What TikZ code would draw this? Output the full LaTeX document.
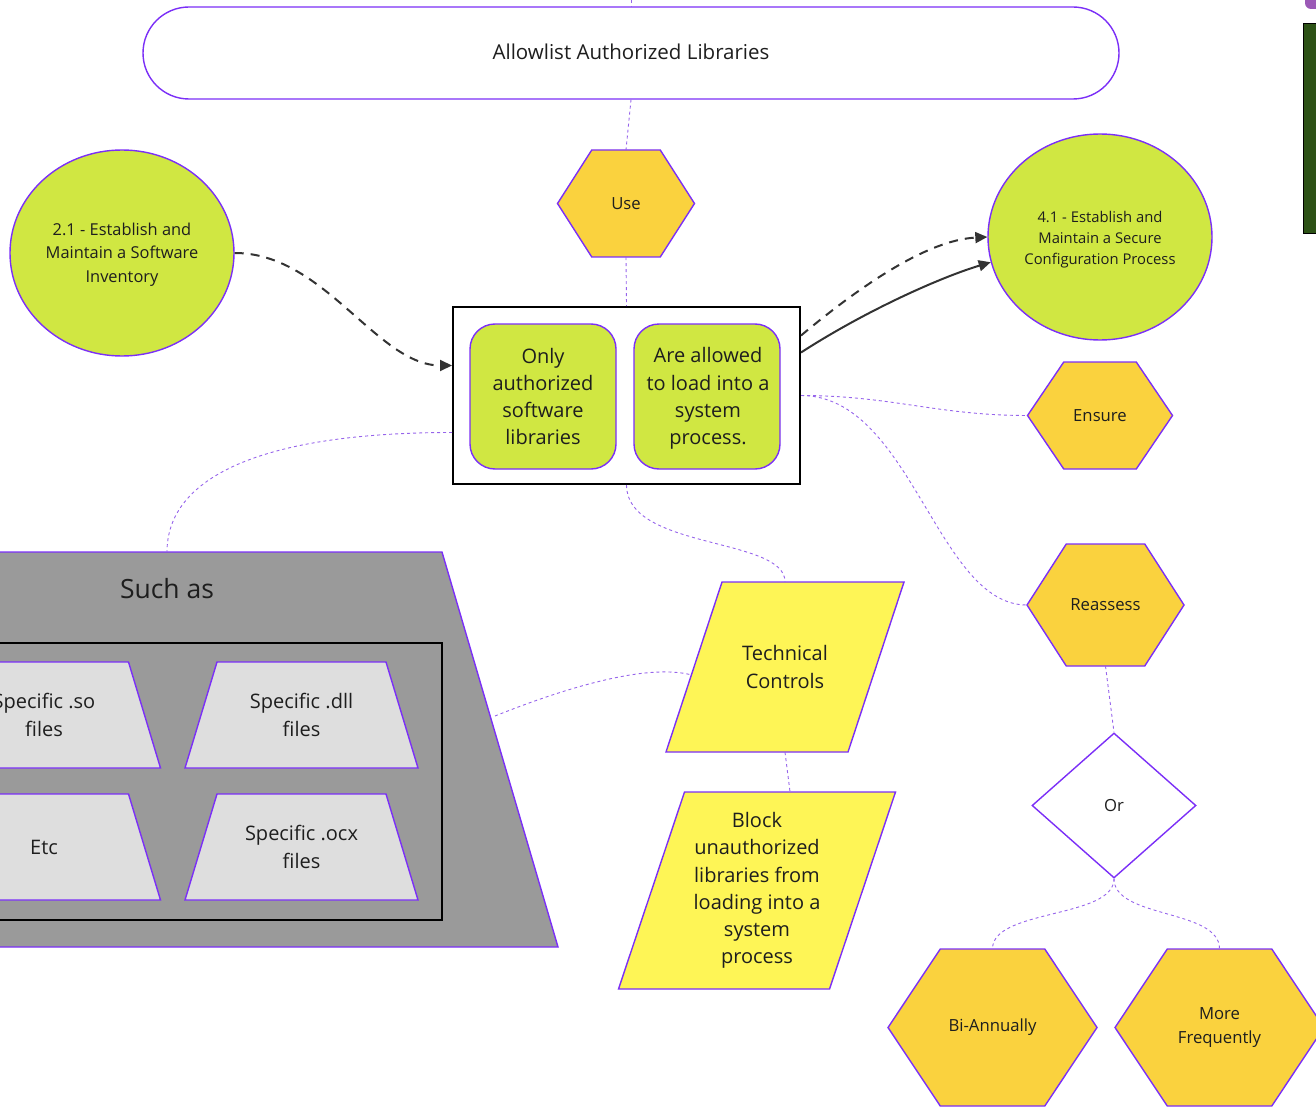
\documentclass[tikz,border=0pt]{standalone}
\usepackage{fontspec}
\setmainfont{Open Sans}
\usetikzlibrary{arrows.meta,calc,shapes.geometric}

\definecolor{edgepurple}{RGB}{123,47,247}
\definecolor{linkpurple}{RGB}{150,100,235}
\definecolor{lime}{RGB}{208,231,66}
\definecolor{amber}{RGB}{250,210,62}
\definecolor{lemon}{RGB}{254,245,86}
\definecolor{slab}{RGB}{154,154,154}
\definecolor{tile}{RGB}{222,222,222}
\definecolor{ink}{RGB}{30,30,30}
\definecolor{arrowgray}{RGB}{51,51,51}
\definecolor{moss}{RGB}{45,82,22}
\definecolor{orchid}{RGB}{155,89,182}

\tikzset{
  shapeline/.style={draw=edgepurple, line width=1.4pt},
  conn/.style={draw=linkpurple, line width=0.9pt, dash pattern=on 3pt off 3pt},
  flowarrow/.style={draw=arrowgray, line width=2pt, -{Triangle[length=12pt,width=11pt]}},
  flowarrowdash/.style={flowarrow, dash pattern=on 9pt off 7pt},
  txt/.style={text=ink, align=center, inner sep=0pt},
  bigtext/.style={font=\fontsize{20}{27.3}\selectfont},
  hextext/.style={font=\fontsize{16.7}{24}\selectfont},
}

% hexagon: name, cx, cy, width, height, text
\newcommand{\hexnode}[6]{%
  \filldraw[shapeline, fill=amber]
    ({#2-#4/2},{#3}) -- ({#2-#4/4},{#3-#5/2}) -- ({#2+#4/4},{#3-#5/2}) --
    ({#2+#4/2},{#3}) -- ({#2+#4/4},{#3+#5/2}) -- ({#2-#4/4},{#3+#5/2}) -- cycle;
  \node[txt, hextext, minimum width=#4pt, minimum height=#5pt] (#1) at (#2,#3) {#6};}

% parallelogram: name, cx, cy, edge length, height, slant, text
\newcommand{\slantnode}[7]{%
  \filldraw[shapeline, fill=lemon]
    ({#2-#4/2+#6/2},{#3-#5/2}) -- ({#2+#4/2+#6/2},{#3-#5/2}) --
    ({#2+#4/2-#6/2},{#3+#5/2}) -- ({#2-#4/2-#6/2},{#3+#5/2}) -- cycle;
  \node[txt, bigtext, minimum width=#4pt, minimum height=#5pt] (#1) at (#2,#3) {#7};}

% file tile (trapezium, narrow top): name, cx, cy, text
\newcommand{\tilenode}[4]{%
  \filldraw[shapeline, fill=tile]
    ({#2-84.5},{#3-53}) -- ({#2+84.5},{#3-53}) --
    ({#2+116.5},{#3+53}) -- ({#2-116.5},{#3+53}) -- cycle;
  \node[txt, bigtext, minimum width=169pt, minimum height=106pt] (#1) at (#2,#3) {#4};}

\begin{document}
\begin{tikzpicture}[x=1pt, y=-1pt]
\useasboundingbox (0,0) rectangle (1316,1107);
\clip (0,0) rectangle (1316,1107);

% objects cut by the right edge
\fill[orchid, rounded corners=6pt] (1305,-20) rectangle (1345,9);
\node[cylinder, shape border rotate=90, draw=black, line width=1pt, fill=moss,
      minimum width=44pt, minimum height=210pt, aspect=0.3, inner sep=0pt]
      (drum) at (1325,129) {};

% title terminal
\coordinate (topin) at (631,0);
\node[shapeline, fill=white, rounded corners=46pt, minimum width=976pt,
      minimum height=92pt] (allow) at (631,53) {};
\node[txt, font=\fontsize{20.5}{26}\selectfont] (allowtext) at (631,51.5)
      {Allowlist Authorized Libraries};

% central container
\node[draw=black, line width=2pt, fill=white, minimum width=347pt,
      minimum height=177pt] (box) at (626.5,395.5) {};
\node[shapeline, fill=lime, rounded corners=25pt, minimum width=146pt,
      minimum height=145pt, txt, bigtext] (only) at (543,396.5)
      {Only\\authorized\\software\\libraries};
\node[shapeline, fill=lime, rounded corners=25pt, minimum width=146pt,
      minimum height=145pt] (allowed) at (707,396.5) {};
\node[txt, bigtext] (allowedtext) at (708,398.5)
      {Are allowed\\to load into a\\system\\process.};

% related safeguards
\node[ellipse, shapeline, fill=lime, minimum width=224pt, minimum height=206pt,
      inner sep=0pt] (inv) at (122,253) {};
\node[txt, font=\fontsize{16.4}{23.5}\selectfont] (invtext) at (122,254.5)
      {2.1 - Establish and\\Maintain a Software\\Inventory};
\node[ellipse, shapeline, fill=lime, minimum width=224pt, minimum height=206pt,
      inner sep=0pt] (cfg) at (1100,237) {};
\node[txt, font=\fontsize{14.8}{21}\selectfont] (cfgtext) at (1100,240)
      {4.1 - Establish and\\Maintain a Secure\\Configuration Process};

% verbs
\hexnode{use}{626}{203.5}{137}{107}{Use}
\hexnode{ensure}{1100}{415.5}{145}{107}{Ensure}
\hexnode{reassess}{1105.5}{605}{157}{122}{Reassess}
\hexnode{bian}{992.5}{1027.5}{209}{157}{\raisebox{-2pt}{Bi-Annually}}
\hexnode{more}{1219.5}{1027.5}{209}{157}{\raisebox{-2pt}{More}\\\raisebox{-2pt}{Frequently}}

\node[diamond, shapeline, fill=white, minimum width=164pt, minimum height=145pt,
      inner sep=0pt, txt, hextext] (or) at (1114,805.5) {Or};

% technical controls
\slantnode{tc}{785}{667}{182}{170}{56}{Technical\\Controls}
\slantnode{block}{757}{890.5}{211}{197}{66}{Block\\unauthorized\\libraries from\\loading into a\\system\\process}

% examples panel
\filldraw[shapeline, fill=slab] (-110,552) -- (442,552) -- (558,947) -- (-226,947) -- cycle;
\coordinate (suchtop) at (167,552);
\coordinate (suchright) at (495,716);
\node[txt, font=\fontsize{26.5}{32}\selectfont] (such) at (167,589) {Such as};
\draw[black, line width=2pt] (-150,643) rectangle (442,920);
\tilenode{so}{44}{715}{Specific .so\\files}
\tilenode{dll}{301.5}{715}{Specific .dll\\files}
\tilenode{etc}{44}{847}{Etc}
\tilenode{ocx}{301.5}{847}{Specific .ocx\\files}

% dotted links
\draw[conn] (topin) -- (allow.north);
\draw[conn] (allow.south) -- (use.north);
\draw[conn] (use.south) -- (box.north);
\draw[conn] ($(box.west)+(0,37)$) .. controls +(-190,0) and +(0,-75) .. (suchtop);
\draw[conn] (box.south) .. controls +(0,65) and +(0,-45) .. (tc.north);
\draw[conn] (tc.south) -- ($(block.north)+(33,0)$);
\draw[conn] (suchright) .. controls +(70,-28) and +(-45,-12) .. ($(tc.west)+(-2,8)$);
\draw[conn] (box.east) .. controls +(90,0) and +(-90,0) .. (ensure.west);
\draw[conn] (box.east) .. controls +(110,0) and +(-90,0) .. (reassess.west);
\draw[conn] (reassess.south) -- (or.north);
\draw[conn] (or.south) .. controls +(0,40) and +(0,-40) .. (bian.north);
\draw[conn] (or.south) .. controls +(0,40) and +(0,-40) .. (more.north);

% dependency arrows
\draw[flowarrowdash] (inv.east) .. controls +(90,0) and +(-75,0) .. ($(box.west)+(0,-30)$);
\draw[flowarrowdash] ($(box.east)+(0,-60)$) .. controls +(60,-50) and +(-60,3) .. (cfg.west);
\draw[flowarrow] ($(box.east)+(0,-43)$) .. controls +(65,-42) and +(-50,15) .. (cfg.193);
\end{tikzpicture}
\end{document}
